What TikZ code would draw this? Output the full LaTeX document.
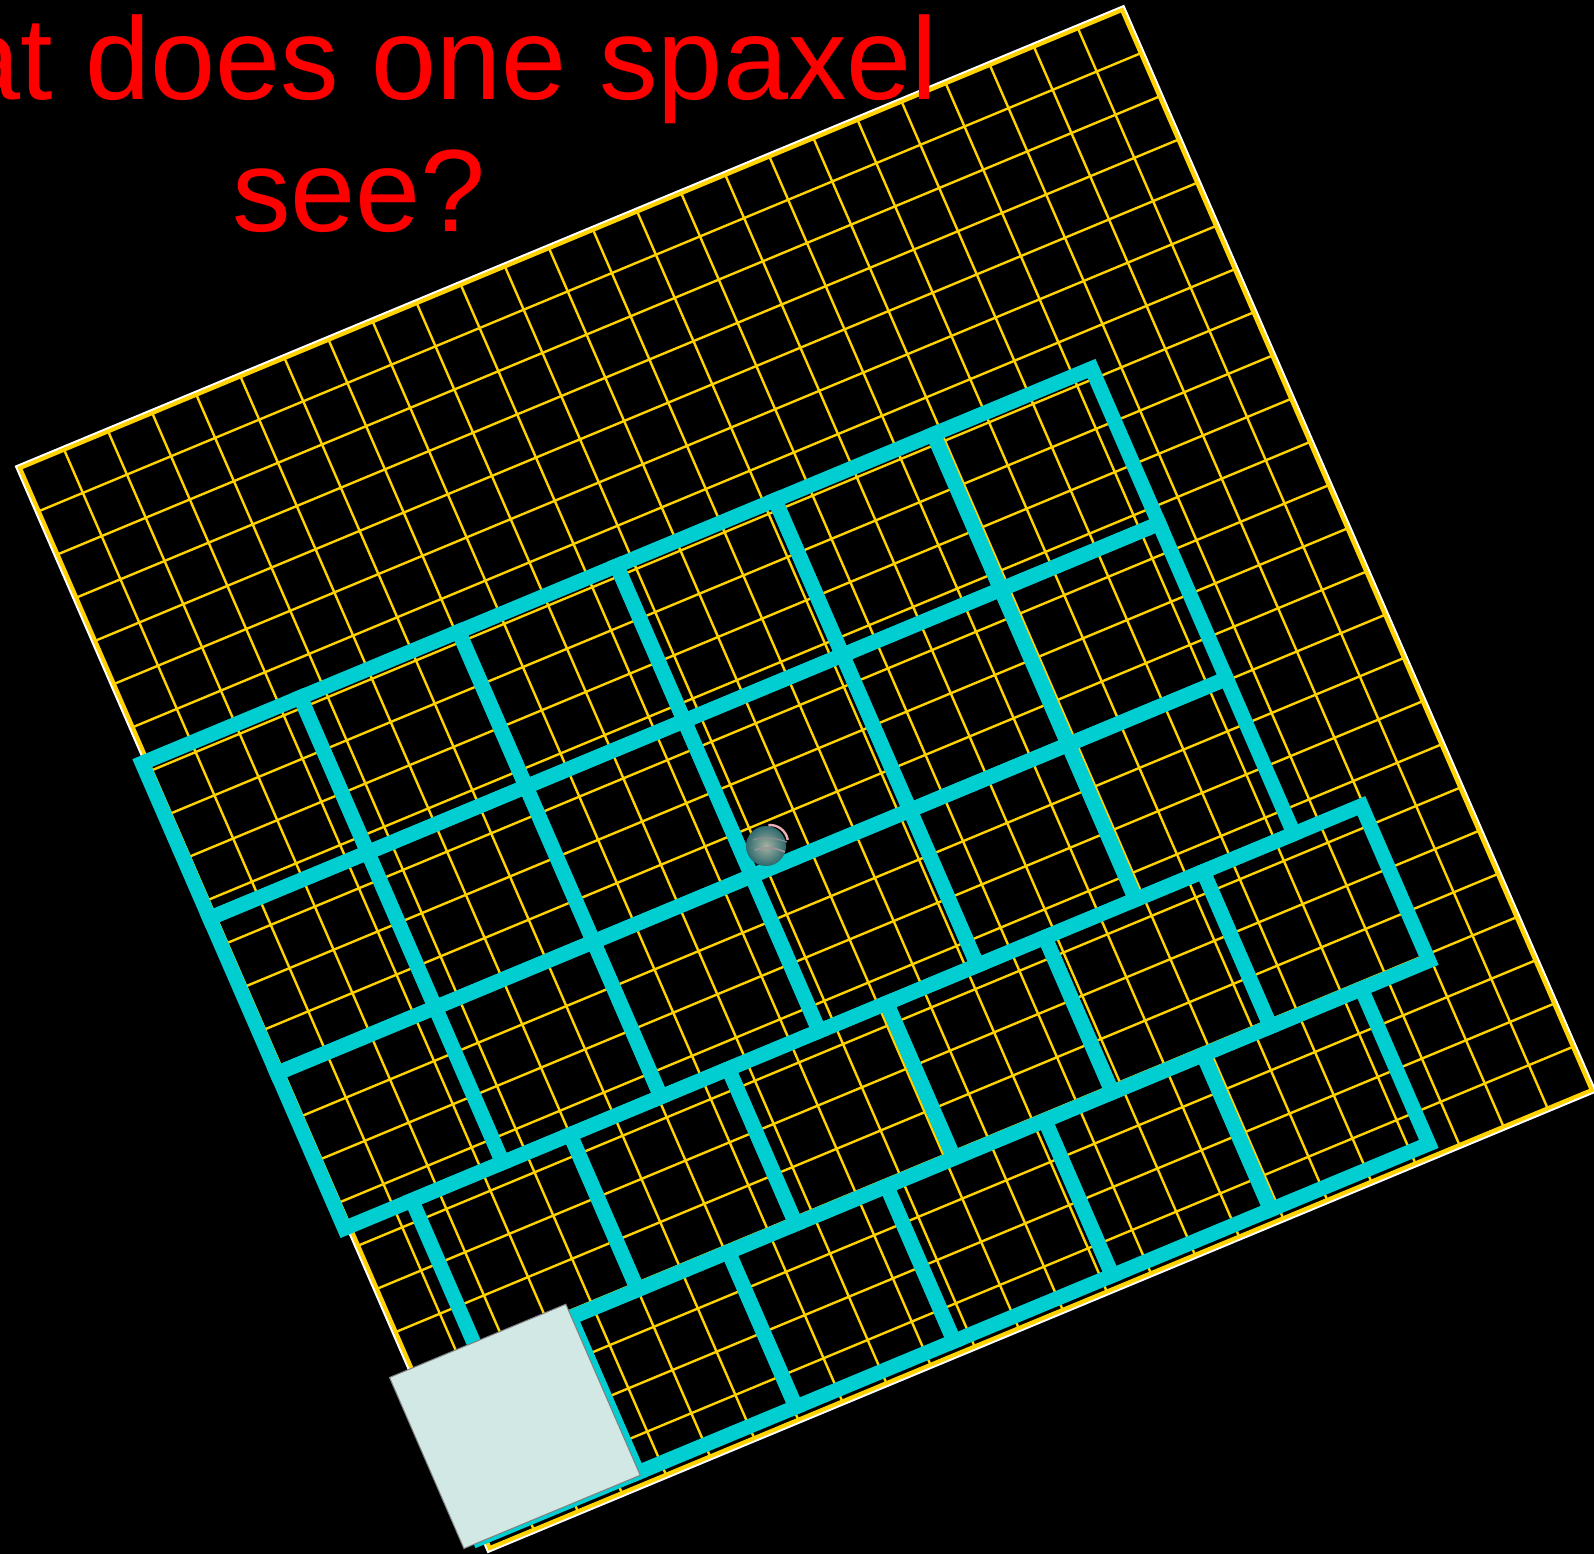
\documentclass[tikz,border=0pt]{standalone}
\usepackage{fontspec}
\setmainfont{Liberation Sans}
\definecolor{gridyellow}{RGB}{255,210,0}
\definecolor{tilecyan}{RGB}{0,206,209}
\definecolor{paneface}{RGB}{209,232,228}
\definecolor{titlered}{RGB}{255,0,0}
\definecolor{sphlight}{RGB}{165,178,160}
\definecolor{sphdark}{RGB}{45,105,110}
\definecolor{sphrim}{RGB}{235,175,185}
\begin{document}
\begin{tikzpicture}[x=0.5pt,y=-0.5pt,
  gridline/.style={draw=gridyellow, line width=1.2pt},
  gridframe/.style={draw=gridyellow, line width=2pt, line join=miter},
  gridshadow/.style={draw=white, line width=1.2pt, line join=miter},
  tileedge/.style={draw=tilecyan, line width=7.4pt, line join=miter},
  panebox/.style={fill=paneface, draw=gray, line width=0.5pt},
  titletext/.style={text=titlered, font=\fontsize{58.5pt}{66pt}\selectfont, inner sep=0pt, anchor=base}]
\useasboundingbox (0,0) rectangle (1594,1554);
\fill[black] (0,0) rectangle (1594,1554);
\clip (0,0) rectangle (1594,1554);

% rotated spaxel grid frame: 25 x 25 cells
\begin{scope}[shift={(10pt,-234pt)}, x={(22.04pt,9.16pt)}, y={(9.394pt,-21.6pt)}]
  \draw[gridshadow] (-0.06,-0.06) -- (25.06,-0.06) -- (25.06,25.06) -- (-0.06,25.06) -- cycle;
  \foreach \k in {1,...,24} {
    \draw[gridline] (\k,0) -- (\k,25);
    \draw[gridline] (0,\k) -- (25,\k);
  }
  \draw[gridframe] (0,0) -- (25,0) -- (25,25) -- (0,25) -- cycle;
  % cyan tiles
  \foreach \r/\off in {0/-0.12,1/-0.12,2/-0.12,3/1.41,4/-0.12} {
    \foreach \c in {0,...,5} {
      \draw[tileedge] ({\off+\c*3.59},{6.78+\r*3.59}) -- ++(3.59,0) -- ++(0,3.59) -- ++(-3.59,0) -- cycle;
    }
  }
\end{scope}

% small planet image near the centre
\shade[inner color=sphlight, outer color=sphdark] (766,846) circle[radius=20];
\draw[sphrim, line width=1.2pt] ([shift={(-10:18)}]770,843) arc[start angle=-10, end angle=-95, radius=18];
\draw[sphrim!60!sphdark, line width=0.8pt] (755,850) .. controls (766,846) and (776,848) .. (785,852);
\draw[sphrim!50!sphdark, line width=0.6pt] (753,840) .. controls (764,836) and (776,838) .. (787,842);

% light pane at the lower left
\begin{scope}[shift={(10pt,-234pt)}, x={(22.04pt,9.16pt)}, y={(9.394pt,-21.6pt)}]
  \draw[panebox] (-0.5,20.84) -- (3.5,20.84) -- (3.5,24.8) -- (-0.5,24.8) -- cycle;
\end{scope}

% title
\node[titletext] (titleone) at (359,99.3) {What does one spaxel};
\node[titletext] (titletwo) at (359,231.7) {see?};
\end{tikzpicture}
\end{document}
